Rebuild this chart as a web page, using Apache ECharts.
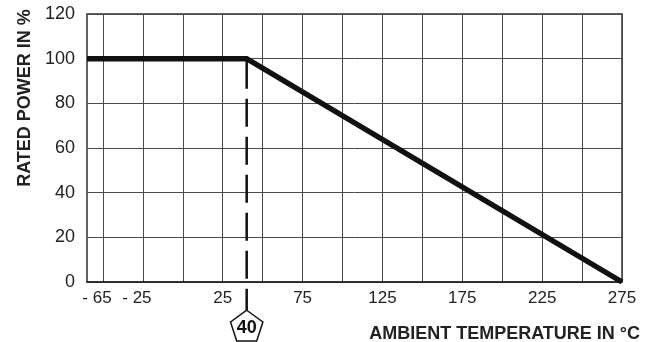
<!DOCTYPE html>
<html>
<head>
<meta charset="utf-8">
<script src="https://cdn.jsdelivr.net/npm/echarts@6/dist/echarts.min.js"></script>
<style>
  html, body { margin: 0; padding: 0; background: #fff; }
  #chart { width: 658px; height: 342px; }
</style>
</head>
<body>
<div id="chart"></div>
<script>
// ---- data ----
const xGridValues = [-50, -25, 0, 25, 50, 75, 100, 125, 150, 175, 200, 225, 250, 275];
const xLabelValues = [-50, -25, 25, 75, 125, 175, 225, 275];
const xLabelTexts = ['- 65', '- 25', '25', '75', '125', '175', '225', '275'];
const yTickValues = [0, 20, 40, 60, 80, 100, 120];
const curveTemps = [-60, 40, 275];
const curvePower = [100, 100, 0];
const markerTemp = 40;
const markerText = '40';
const xTitle = 'AMBIENT TEMPERATURE IN °C';
const yTitle = 'RATED POWER IN %';

const FONT = "'Liberation Sans', Arial, Helvetica, sans-serif";
const chart = echarts.init(document.getElementById('chart'), null, { renderer: 'canvas' });

const labelMap = {};
xLabelValues.forEach((v, i) => { labelMap[v] = xLabelTexts[i]; });

chart.setOption({
  animation: false,
  backgroundColor: '#fff',
  grid: { left: 87, right: 36, top: 14, bottom: 60, show: true, borderColor: '#333', borderWidth: 1.5 },
  xAxis: {
    type: 'value',
    min: -60,
    max: 275,
    axisLine: { show: true, lineStyle: { color: '#222', width: 1.5 } },
    axisTick: { show: false, customValues: xGridValues },
    splitLine: { show: true, lineStyle: { color: '#4a4a4a', width: 1 } },
    axisLabel: {
      customValues: xLabelValues,
      margin: 8,
      color: '#222',
      fontSize: 17,
      fontFamily: FONT,
      formatter: function (v) {
        const t = labelMap[v];
        if (t === undefined) return '';
        if (t.indexOf('- ') === 0) return '{n|' + t + '}';
        return t;
      },
      rich: { n: { padding: [0, 12, 0, 0], fontSize: 17, fontFamily: FONT, color: '#222' } }
    }
  },
  yAxis: {
    type: 'value',
    min: 0,
    max: 120,
    interval: 20,
    axisLine: { show: false },
    axisTick: { show: false },
    splitLine: { show: true, lineStyle: { color: '#4a4a4a', width: 1 } },
    axisLabel: { margin: 12, color: '#222', fontSize: 18, fontFamily: FONT }
  },
  series: [{
    type: 'line',
    data: curveTemps.map((t, i) => [t, curvePower[i]]),
    symbol: 'none',
    lineStyle: { color: '#111', width: 5.5, join: 'miter' },
    z: 5
  }]
});

// annotation: dashed line at marker temperature down to a pentagon badge
const pTop = chart.convertToPixel({ gridIndex: 0 }, [markerTemp, 100]);
const cx = pTop[0];
const R = 17;
const cy = 342 - R * Math.cos(Math.PI / 5) - 1;
const pts = [];
for (let k = 0; k < 5; k++) {
  const a = -Math.PI / 2 + k * 2 * Math.PI / 5;
  pts.push([cx + R * Math.cos(a), cy + R * Math.sin(a)]);
}

chart.setOption({
  graphic: [
    {
      type: 'line',
      shape: { x1: cx, y1: pTop[1] + 2, x2: cx, y2: cy - R },
      style: { stroke: '#111', lineWidth: 2.5, lineDash: [28, 10] },
      z: 4
    },
    {
      type: 'polygon',
      shape: { points: pts },
      style: { fill: '#fff', stroke: '#111', lineWidth: 1.5 },
      z: 6
    },
    {
      type: 'text',
      x: cx, y: cy + 1,
      style: { text: markerText, align: 'center', verticalAlign: 'middle', font: "bold 18px " + FONT, fill: '#111' },
      z: 7
    },
    {
      type: 'text',
      x: 640, y: 334,
      style: { text: xTitle, align: 'right', verticalAlign: 'middle', font: "bold 18px " + FONT, fill: '#222' }
    },
    {
      type: 'text',
      x: 25, y: 98,
      rotation: Math.PI / 2,
      style: { text: yTitle, align: 'center', verticalAlign: 'middle', font: "bold 18px " + FONT, fill: '#222' }
    }
  ]
});
</script>
</body>
</html>
